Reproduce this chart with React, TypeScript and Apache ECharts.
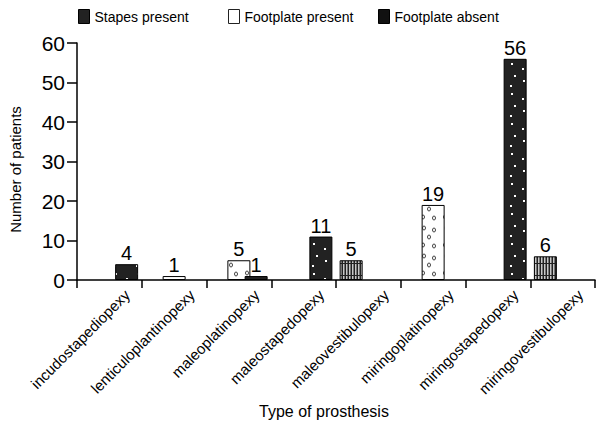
import React, { useEffect, useRef } from "react";
import * as echarts from "echarts";

const categories = [
  "incudostapediopexy",
  "lenticuloplantinopexy",
  "maleoplatinopexy",
  "maleostapedopexy",
  "maleovestibulopexy",
  "miringoplatinopexy",
  "miringostapedopexy",
  "miringovestibulopexy",
];
const stapesPresent = [4, null, null, 11, null, null, 56, null];
const footplatePresent = [null, 1, 5, null, null, 19, null, null];
const footplateAbsentLeft = [null, null, null, null, 5, null, null, 6];
const footplateAbsentRight = [null, null, 1, null, null, null, null, null];
const yTicks = { min: 0, max: 60, interval: 10 };

const FONT = "'Liberation Sans', Arial, Helvetica, sans-serif";

function makeCanvas(w: number, h: number, draw: (ctx: CanvasRenderingContext2D) => void) {
  const c = document.createElement("canvas");
  c.width = w;
  c.height = h;
  const ctx = c.getContext("2d")!;
  draw(ctx);
  return c;
}

function stapesPattern() {
  return makeCanvas(22, 30, (ctx) => {
    ctx.fillStyle = "#222";
    ctx.fillRect(0, 0, 22, 30);
    ctx.fillStyle = "#fff";
    const dots = [
      [5, 3],
      [16, 8],
      [8, 15],
      [17, 20],
      [4, 25],
    ];
    dots.forEach(([x, y]) => ctx.fillRect(x, y, 2, 2));
  });
}

function presentPattern() {
  return makeCanvas(22, 28, (ctx) => {
    ctx.fillStyle = "#fff";
    ctx.fillRect(0, 0, 22, 28);
    ctx.strokeStyle = "#444";
    ctx.lineWidth = 1;
    const pts = [
      [6, 4],
      [16, 6],
      [11, 13],
      [5, 21],
      [16, 22],
    ];
    pts.forEach(([x, y]) => {
      ctx.beginPath();
      ctx.ellipse(x, y, 1.5, 2, 0, 0, Math.PI * 2);
      ctx.stroke();
    });
  });
}

function absentPattern() {
  return makeCanvas(3, 12, (ctx) => {
    ctx.fillStyle = "#222";
    ctx.fillRect(0, 0, 3, 12);
    ctx.fillStyle = "#c8c8c8";
    ctx.fillRect(1, 0, 1.5, 11);
  });
}

export default function App() {
  const ref = useRef<HTMLDivElement>(null);
  useEffect(() => {
    if (!ref.current) return;
    const chart = echarts.init(ref.current, undefined, { renderer: "svg" });
    const stapesColor = { image: stapesPattern(), repeat: "repeat" } as any;
    const presentColor = { image: presentPattern(), repeat: "repeat" } as any;
    const absentColor = { image: absentPattern(), repeat: "repeat" } as any;

    const label = {
      show: true,
      position: "top",
      distance: 1,
      fontSize: 20,
      color: "#000",
      fontFamily: FONT,
    };
    const common = {
      type: "bar",
      barWidth: 23,
      barGap: "-25%",
      label,
    };
    const legendBase = {
      top: 9,
      padding: 0,
      icon: "rect",
      itemWidth: 11,
      itemHeight: 14,
      itemGap: 6,
      textStyle: { fontSize: 14, color: "#000", fontFamily: FONT },
      selectedMode: false,
    };

    chart.setOption({
      animation: false,
      textStyle: { fontFamily: FONT },
      legend: [
        {
          ...legendBase,
          left: 78,
          data: [{ name: "Stapes present", itemStyle: { color: "#222", borderColor: "#000", borderWidth: 1 } }],
        },
        {
          ...legendBase,
          left: 228,
          data: [{ name: "Footplate present", itemStyle: { color: "#fff", borderColor: "#222", borderWidth: 1 } }],
        },
        {
          ...legendBase,
          left: 378,
          data: [{ name: "Footplate absent", itemStyle: { color: "#111", borderColor: "#000", borderWidth: 1 } }],
        },
      ],
      grid: { left: 77, right: 7, top: 43, bottom: 147 },
      xAxis: {
        type: "category",
        data: categories,
        name: "Type of prosthesis",
        nameLocation: "middle",
        nameGap: 121,
        nameTextStyle: { fontSize: 16, color: "#000", fontFamily: FONT, padding: [0, 24, 0, 0] },
        axisLine: { lineStyle: { color: "#000", width: 1.5 } },
        axisTick: { show: true, alignWithLabel: false, interval: 0, length: 8, lineStyle: { color: "#000", width: 1.5 } },
        axisLabel: {
          interval: 0,
          rotate: 45,
          fontSize: 15,
          color: "#000",
          margin: 30,
          padding: [0, -25, 0, 0],
          fontFamily: FONT,
        },
      },
      yAxis: {
        type: "value",
        min: yTicks.min,
        max: yTicks.max,
        interval: yTicks.interval,
        name: "Number of patients",
        nameLocation: "middle",
        nameGap: 54,
        nameTextStyle: { fontSize: 15, color: "#000", fontFamily: FONT, padding: [0, 16, 0, 0] },
        axisLine: { show: true, lineStyle: { color: "#000", width: 1.5 } },
        axisTick: { show: true, length: 10, lineStyle: { color: "#000", width: 1.5 } },
        axisLabel: { fontSize: 21, color: "#000", margin: 12, fontFamily: FONT },
        splitLine: { show: false },
      },
      series: [
        {
          ...common,
          name: "Footplate absent",
          data: footplateAbsentLeft,
          itemStyle: { color: absentColor, borderColor: "#000", borderWidth: 1 },
        },
        {
          ...common,
          name: "Footplate present",
          data: footplatePresent,
          itemStyle: { color: presentColor, borderColor: "#000", borderWidth: 1 },
        },
        {
          ...common,
          name: "Stapes present",
          stack: "right",
          data: stapesPresent,
          itemStyle: { color: stapesColor, borderColor: "#000", borderWidth: 1 },
        },
        {
          ...common,
          name: "Footplate absent",
          stack: "right",
          data: footplateAbsentRight,
          itemStyle: { color: "#222", borderColor: "#000", borderWidth: 1 },
        },
      ],
    });
    return () => chart.dispose();
  }, []);
  return <div ref={ref} style={{ width: 602, height: 427, position: "absolute", left: 0, top: 0 }} />;
}
